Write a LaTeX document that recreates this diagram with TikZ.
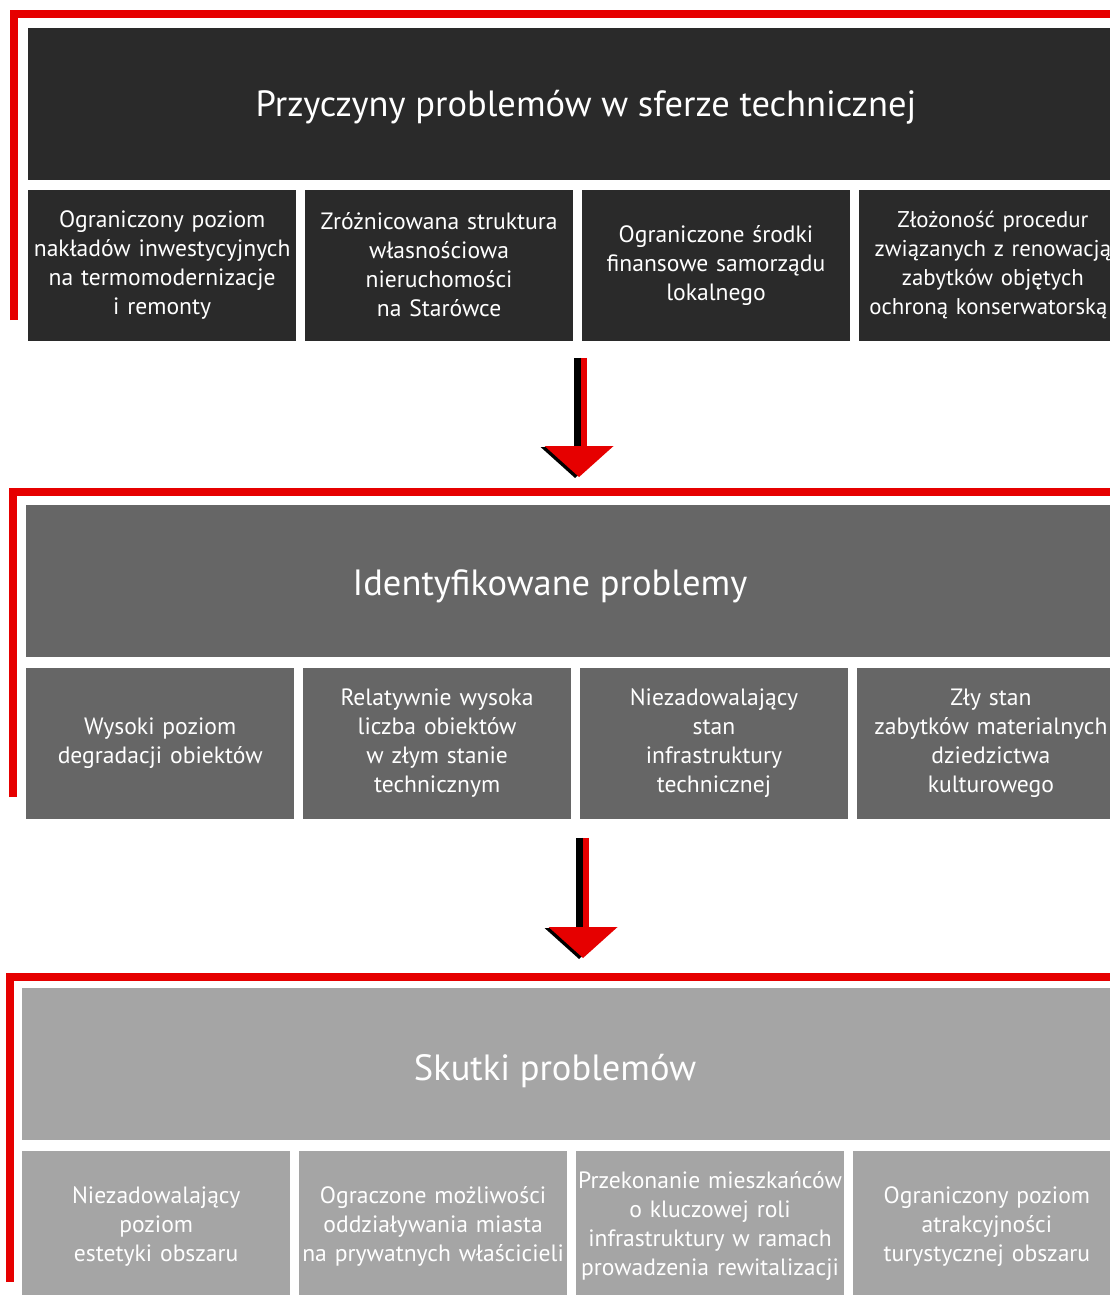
\documentclass[tikz,border=0pt]{standalone}
\usepackage{fontspec}
\setmainfont{PT Sans}
\usetikzlibrary{positioning,calc}
\definecolor{redline}{RGB}{230,0,0}
\definecolor{darkbox}{RGB}{42,42,42}
\definecolor{midbox}{RGB}{102,102,102}
\definecolor{lightbox}{RGB}{165,165,165}

\begin{document}
\begin{tikzpicture}[
  x=1pt, y=-1pt,
  node distance=8.5pt,
  hdr/.style={fill=#1, minimum width=1120pt, minimum height=152pt, anchor=north west, inner sep=0pt},
  title/.style={text=white, inner sep=0pt, font=\fontsize{36.5}{44}\selectfont},
  cell/.style={fill=#1, text=white, minimum width=268pt, minimum height=151pt, text width=266pt, align=center, inner sep=0pt, font=\fontsize{23.6}{29}\selectfont},
  bracket/.style={draw=redline, line width=8pt},
  shaft/.style={line width=7pt},
]
\useasboundingbox (0,0) rectangle (1110,1295);
\clip (0,0) rectangle (1110,1295);

% Causes
\draw[bracket] (14,320) |- (1120,14);
\node[hdr=darkbox] (h1) at (28,28) {};
\node[title] at ($(h1.west)+(558,3)$) {Przyczyny problemów w sferze technicznej};
\node[cell=darkbox, below=9pt of h1.south west, anchor=north west] (c1) {Ograniczony poziom\\nakładów inwestycyjnych\\na termomodernizacje\\i remonty};
\node[cell=darkbox, right=of c1] (c2) {Zróżnicowana struktura\\własnościowa\\nieruchomości\\na Starówce};
\node[cell=darkbox, right=of c2] (c3) {Ograniczone środki\\finansowe samorządu\\lokalnego};
\node[cell=darkbox, right=of c3, font=\fontsize{22.8}{29}\selectfont] (c4) {Złożoność procedur\hspace*{9pt}\\związanych z renowacją\hspace*{9pt}\\zabytków objętych\hspace*{9pt}\\ochroną konserwatorską\hspace*{9pt}};

% Problems
\draw[bracket] (13,797) |- (1120,492);
\node[hdr=midbox] (h2) at (26,505) {};
\node[title] at ($(h2.west)+(524,5)$) {Identyfikowane problemy};
\node[cell=midbox, below=10pt of h2.south west, anchor=north west] (d1) {Wysoki poziom\\degradacji obiektów};
\node[cell=midbox, right=of d1] (d2) {Relatywnie wysoka\\liczba obiektów\\w złym stanie\\technicznym};
\node[cell=midbox, right=of d2] (d3) {Niezadowalający\\stan\\infrastruktury\\technicznej};
\node[cell=midbox, right=of d3] (d4) {Zły stan\\zabytków materialnych\\dziedzictwa\\kulturowego};

% Effects
\draw[bracket] (10,1282) |- (1120,977);
\node[hdr=lightbox] (h3) at (22,988) {};
\node[title] at ($(h3.west)+(533,7)$) {Skutki problemów};
\node[cell=lightbox, below=10pt of h3.south west, anchor=north west] (e1) {Niezadowalający\\poziom\\estetyki obszaru};
\node[cell=lightbox, right=of e1] (e2) {Ograczone możliwości\\oddziaływania miasta\\na prywatnych właścicieli};
\node[cell=lightbox, right=of e2] (e3) {Przekonanie mieszkańców\\o kluczowej roli\\infrastruktury w ramach\\prowadzenia rewitalizacji};
\node[cell=lightbox, right=of e3] (e4) {Ograniczony poziom\\atrakcyjności\\turystycznej obszaru};

% Arrows: black shaft with red shadow, red head with black shadow
\coordinate (a1) at ($(c2.south east)!.5!(c3.south west)+(0,17)$);
\coordinate (t1) at ($(a1 |- h2.north)+(1.5,-28)$);
\draw[shaft, redline] ($(a1)+(6,0)$) -- ($(t1)+(4.5,-31)$);
\draw[shaft, black] (a1) -- ($(t1)+(-1.5,-31)$);
\fill[black] ($(t1)+(-4,1)$) -- ++(-34.5,-31) -- ++(69,0) -- cycle;
\fill[redline] (t1) -- ++(-34.5,-31) -- ++(69,0) -- cycle;

\coordinate (a2) at ($(d2.south east)!.5!(d3.south west)+(4,19)$);
\coordinate (t2) at ($(a2 |- h3.north)+(3.5,-30)$);
\draw[shaft, redline] ($(a2)+(6,0)$) -- ($(t2)+(2.5,-31)$);
\draw[shaft, black] (a2) -- ($(t2)+(-3.5,-31)$);
\fill[black] ($(t2)+(-4,1)$) -- ++(-34.5,-31) -- ++(69,0) -- cycle;
\fill[redline] (t2) -- ++(-34.5,-31) -- ++(69,0) -- cycle;
\end{tikzpicture}
\end{document}
